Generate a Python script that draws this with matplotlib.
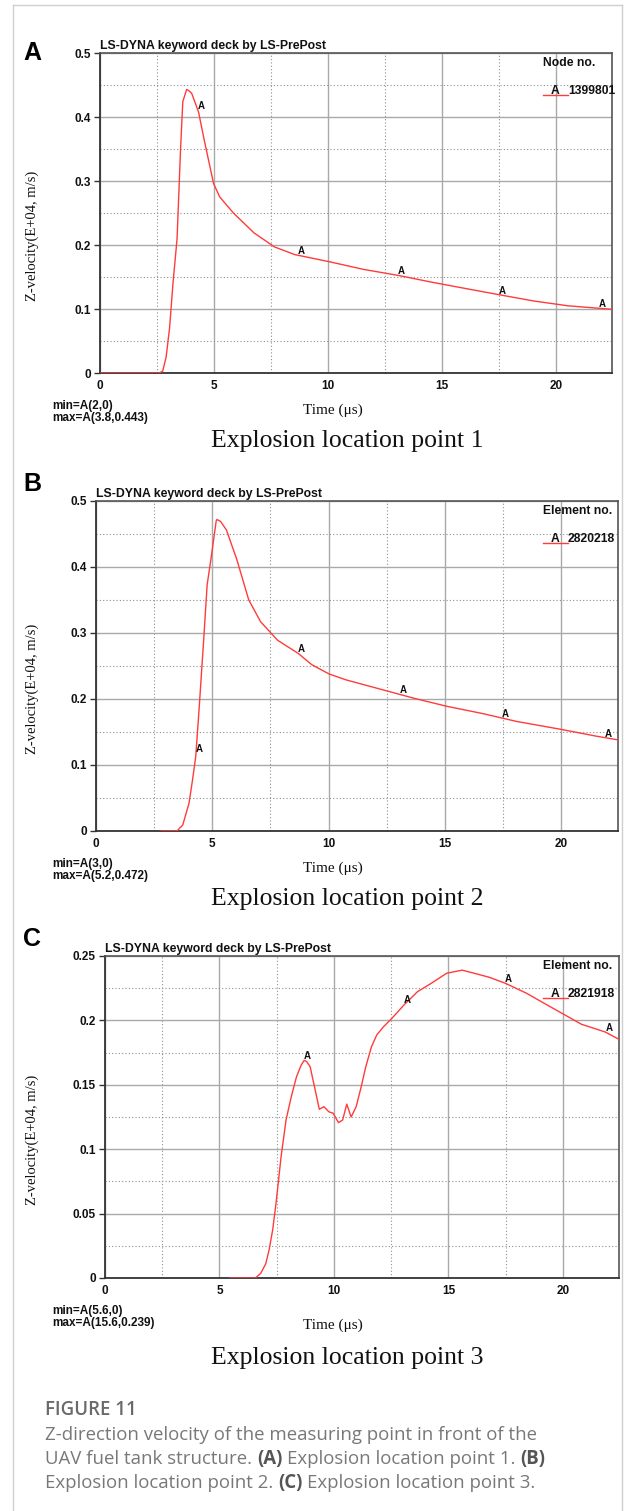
import matplotlib
matplotlib.use("Agg")
import matplotlib.pyplot as plt
from matplotlib.lines import Line2D
from matplotlib.ticker import MultipleLocator, FuncFormatter
import numpy as np

plt.rcParams["font.family"] = "Liberation Sans"
plt.rcParams["font.weight"] = "bold"

W, H = 625, 1511

# --- data (time in us, velocity in E+04 m/s)
time_a = [0, 2.6, 2.75, 2.9, 3.05, 3.2, 3.38, 3.53, 3.63, 3.8, 3.9, 4.02, 4.32,
          4.57, 4.98, 5.25, 5.85, 6.75, 7.65, 8.54, 10.04, 11.54, 13.15, 14.53,
          16.03, 17.55, 19.02, 20.52, 22.45]
vel_a = [0, 0, 0.003, 0.025, 0.07, 0.14, 0.21, 0.348, 0.424, 0.443, 0.441,
         0.437, 0.408, 0.364, 0.296, 0.275, 0.25, 0.219, 0.197, 0.185, 0.174,
         0.162, 0.152, 0.142, 0.132, 0.122, 0.1125, 0.105, 0.0995]

time_b = [2.8, 3.48, 3.73, 4.0, 4.15, 4.29, 4.44, 4.63, 4.78, 4.96, 5.17, 5.2,
          5.36, 5.61, 6.06, 6.57, 7.08, 7.81, 8.7, 9.28, 10.02, 10.75, 12.22,
          13.69, 15.08, 16.62, 18.09, 20.0, 21.47, 22.46]
vel_b = [0, 0, 0.009, 0.042, 0.077, 0.113, 0.188, 0.289, 0.373, 0.416, 0.47,
         0.472, 0.469, 0.456, 0.411, 0.35, 0.317, 0.289, 0.269, 0.252, 0.238,
         0.229, 0.215, 0.201, 0.189, 0.178, 0.166, 0.154, 0.144, 0.138]

time_c = [5.45, 6.57, 6.8, 7.02, 7.17, 7.32, 7.47, 7.69, 7.91, 8.14, 8.36, 8.56,
          8.7, 8.81, 8.96, 9.18, 9.36, 9.56, 9.78, 9.96, 10.2, 10.38, 10.56,
          10.75, 10.97, 11.19, 11.39, 11.64, 11.87, 12.16, 12.53, 13.06, 13.65,
          14.25, 14.92, 15.6, 16.04, 16.78, 17.49, 18.42, 19.31, 20.21, 20.81,
          21.85, 22.45]
vel_c = [0, 0, 0.0036, 0.011, 0.022, 0.037, 0.058, 0.094, 0.123, 0.141, 0.156,
         0.165, 0.169, 0.168, 0.164, 0.146, 0.131, 0.133, 0.129, 0.128, 0.1206,
         0.1227, 0.135, 0.125, 0.133, 0.1485, 0.164, 0.1796, 0.1887, 0.195,
         0.2016, 0.212, 0.2223, 0.2288, 0.2366, 0.239, 0.237, 0.2335, 0.2288,
         0.221, 0.212, 0.203, 0.197, 0.191, 0.1853]

label_times = [4.3, 8.7, 13.1, 17.5, 21.9]

panels = [
    dict(letter="A", t=time_a, v=vel_a, ymax=0.5, ystep=0.1, leg="Node no.",
         ident="1399801", minmax=("min=A(2,0)", "max=A(3.8,0.443)"),
         name="Explosion location point 1",
         box=(100, 53, 612, 373), below=(33, 37, 68)),
    dict(letter="B", t=time_b, v=vel_b, ymax=0.5, ystep=0.1, leg="Element no.",
         ident="2820218", minmax=("min=A(3,0)", "max=A(5.2,0.472)"),
         name="Explosion location point 2",
         box=(96, 501, 618, 831), below=(33, 37, 68)),
    dict(letter="C", t=time_c, v=vel_c, ymax=0.25, ystep=0.05, leg="Element no.",
         ident="2821918", minmax=("min=A(5.6,0)", "max=A(15.6,0.239)"),
         name="Explosion location point 3",
         box=(105, 956, 619, 1278), below=(33, 47, 80)),
]

fig = plt.figure(figsize=(W / 100, H / 100), dpi=100)


def fx(x):
    return x / W


def fy(y):
    return 1 - y / H


# light frame round the figure
for xs, ys in [((13, 13), (5, H)), ((13, 622), (5, 5)), ((622, 622), (5, H))]:
    fig.add_artist(Line2D([fx(v) for v in xs], [fy(v) for v in ys],
                          transform=fig.transFigure, color="#cfcfcf", lw=1.0))

for p in panels:
    x0, y0, x1, y1 = p["box"]
    ax = fig.add_axes([fx(x0), fy(y1), (x1 - x0) / W, (y1 - y0) / H])
    ax.plot(p["t"], p["v"], color="#ff3b3b", lw=1.0, zorder=3)
    ax.set_xlim(0, 22.45)
    ax.set_ylim(0, p["ymax"])
    ax.xaxis.set_major_locator(MultipleLocator(5))
    ax.xaxis.set_minor_locator(MultipleLocator(2.5))
    ax.yaxis.set_major_locator(MultipleLocator(p["ystep"]))
    ax.yaxis.set_minor_locator(MultipleLocator(p["ystep"] / 2))
    ax.yaxis.set_major_formatter(FuncFormatter(lambda v, pos: f"{v:g}"))
    ax.grid(which="major", color="#a9a9a9", lw=1.0, ls="-")
    ax.grid(which="minor", color="#8f8f8f", lw=0.8, ls=(0, (1, 2)))
    ax.set_axisbelow(True)
    ax.tick_params(axis="x", which="both", length=0, pad=5, labelsize=8.5,
                   labelcolor="#111111")
    ax.tick_params(axis="y", which="major", length=4.5, width=1.0, pad=2,
                   labelsize=8.5, color="#333333", labelcolor="#111111")
    ax.tick_params(axis="y", which="minor", length=0)
    for side in ["left", "bottom"]:
        ax.spines[side].set_color("#333333")
        ax.spines[side].set_linewidth(1.3)
    for side in ["top", "right"]:
        ax.spines[side].set_color("#555555")
        ax.spines[side].set_linewidth(1.2)

    # curve labels "A"
    for t in label_times:
        if p["t"][0] <= t <= p["t"][-1]:
            ax.annotate("A", (t, np.interp(t, p["t"], p["v"])), xytext=(2, 3),
                        textcoords="offset points", ha="center", va="center",
                        fontsize=7, color="#111111", zorder=4)

    # title above the plot
    fig.text(fx(x0), fy(y0 - 4), "LS-DYNA keyword deck by LS-PrePost",
             fontsize=8.8, va="baseline", ha="left", color="#111111")
    # panel letter
    fig.text(fx(32), fy(y0 + (0 if p["letter"] == "A" else -17)), p["letter"],
             fontsize=18, ha="center", va="center", color="black")

    # legend block
    fig.text(fx(543), fy(y0 + 10), p["leg"], fontsize=8.7, ha="left",
             va="center", color="#111111")
    fig.text(fx(555), fy(y0 + 38), "A", fontsize=8.7, ha="center",
             va="center", color="#111111")
    fig.text(fx(568), fy(y0 + 38), p["ident"], fontsize=8.7, ha="left",
             va="center", color="#111111")
    fig.add_artist(Line2D([fx(543), fx(568)], [fy(y0 + 42), fy(y0 + 42)],
                          transform=fig.transFigure, color="#ff3b3b", lw=1.0))

    # y label
    fig.text(fx(32), fy((y0 + y1) / 2 + 23), "Z-velocity(E+04, m/s)",
             family="Liberation Serif", fontweight="normal", fontsize=10.5,
             rotation=90, ha="center", va="center", color="#111111")

    d_mm, d_time, d_name = p["below"]
    fig.text(fx(52), fy(y1 + d_mm), p["minmax"][0], fontsize=8.5, ha="left",
             va="center", color="#111111")
    fig.text(fx(52), fy(y1 + d_mm + 12), p["minmax"][1], fontsize=8.5,
             ha="left", va="center", color="#111111")
    fig.text(fx(333), fy(y1 + d_time), "Time (\u03bcs)",
             family="Liberation Serif", fontweight="normal", fontsize=11,
             ha="center", va="center", color="#111111")
    fig.text(fx(347), fy(y1 + d_name), p["name"], family="Liberation Serif",
             fontweight="normal", fontsize=18.5, ha="center", va="center",
             color="#111111")

# caption with mixed weights
renderer = fig.canvas.get_renderer()
cap_font = dict(family="Open Sans", fontsize=13.4)


def text_width(s, weight):
    t = fig.text(0, 0, s, fontweight=weight, **cap_font)
    w = t.get_window_extent(renderer).width
    t.remove()
    return w


space_w = text_width("x x", "normal") - text_width("xx", "normal")

fig.text(fx(45), fy(1415), "FIGURE 11", fontweight="semibold", color="#6a6a6a",
         va="baseline", **cap_font)

caption_lines = [
    (1440, [("Z-direction velocity of the measuring point in front of the", "normal")]),
    (1464, [("UAV fuel tank structure.", "normal"), ("(A)", "bold"),
            ("Explosion location point 1.", "normal"), ("(B)", "bold")]),
    (1488, [("Explosion location point 2.", "normal"), ("(C)", "bold"),
            ("Explosion location point 3.", "normal")]),
]
for base, parts in caption_lines:
    x = 45
    for s, weight in parts:
        color = "#555555" if weight == "bold" else "#787878"
        fig.text(fx(x), fy(base), s, fontweight=weight, color=color,
                 va="baseline", ha="left", **cap_font)
        x += text_width(s, weight) + space_w

fig.savefig("out.png", dpi=100)
